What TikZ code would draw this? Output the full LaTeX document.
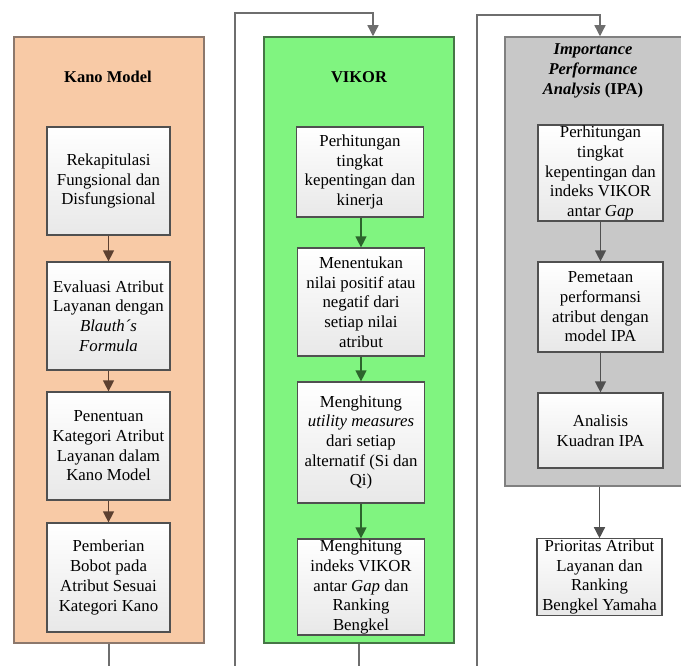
\documentclass[tikz,border=0pt]{standalone}
\usepackage{fontspec}
\setmainfont{Liberation Serif}
\usetikzlibrary{arrows.meta,positioning}

\definecolor{kanofill}{RGB}{248,202,166}
\definecolor{kanoline}{RGB}{140,120,108}
\definecolor{kanoarrow}{RGB}{92,64,48}
\definecolor{vikorfill}{RGB}{128,244,128}
\definecolor{vikorline}{RGB}{70,118,70}
\definecolor{vikorarrow}{RGB}{44,100,44}
\definecolor{ipafill}{RGB}{200,200,200}
\definecolor{ipaline}{RGB}{128,128,128}
\definecolor{linkgray}{RGB}{110,110,110}
\definecolor{boxline}{RGB}{80,80,80}

\begin{document}
\begin{tikzpicture}[x=1pt,y=-1pt]
\tikzset{
  container/.style={rectangle,line width=1.5pt,inner sep=0pt},
  stepbox/.style={rectangle,draw=boxline,line width=1.2pt,top color=white,bottom color=gray!18,
    align=center,inner sep=1pt,font=\fontsize{16.8}{19.7}\selectfont},
  titletext/.style={align=center,font=\fontsize{16.5}{19.7}\selectfont\bfseries},
  tip/.style={-{Triangle[length=11pt,width=11pt]}},
  kanoflow/.style={draw=kanoarrow,line width=1.3pt,tip},
  vikorflow/.style={draw=vikorarrow,line width=1.3pt,tip},
  ipaflow/.style={draw=boxline,line width=1.3pt,tip},
  link/.style={draw=linkgray,line width=1.3pt,line join=miter}
}
\clip (0,0) rectangle (681,666);
\fill[white] (0,0) rectangle (681,666);
% containers
\node[container,draw=kanoline,fill=kanofill,minimum width=190pt,minimum height=606pt] (n_kano) at (109,340) {};
\node[container,draw=vikorline,fill=vikorfill,minimum width=190pt,minimum height=606pt] (n_vikor) at (359,340) {};
\node[container,draw=ipaline,fill=ipafill,minimum width=190pt,minimum height=449pt] (n_ipa) at (600,261.5) {};
% titles
\node[titletext] (t_kano) at (108,77) {Kano Model};
\node[titletext] (t_vikor) at (359,77) {VIKOR};
\node[titletext] (t_ipa) at (593,71) {{\itshape Importance}\\{\itshape Performance}\\{\itshape Analysis} (IPA)};
% Kano steps
\node[stepbox,minimum width=123pt,minimum height=108pt] (n_k1) at (108.5,181) {Rekapitulasi\\Fungsional dan\\Disfungsional};
\node[stepbox,minimum width=123pt,minimum height=108pt] (n_k2) at (108.5,316) {Evaluasi Atribut\\Layanan dengan\\\textit{Blauth´s}\\\textit{Formula}};
\node[stepbox,minimum width=123pt,minimum height=108pt] (n_k3) at (108.5,446) {Penentuan\\Kategori Atribut\\Layanan dalam\\Kano Model};
\node[stepbox,minimum width=123pt,minimum height=109pt] (n_k4) at (108.5,577.5) {Pemberian\\Bobot pada\\Atribut Sesuai\\Kategori Kano};
% VIKOR steps
\node[stepbox,minimum width=127pt,minimum height=90pt] (n_v1) at (360,172) {Perhitungan\\tingkat\\kepentingan dan\\kinerja};
\node[stepbox,minimum width=127pt,minimum height=108pt] (n_v2) at (361,302) {Menentukan\\nilai positif atau\\negatif dari\\setiap nilai\\atribut};
\node[stepbox,minimum width=127pt,minimum height=121pt] (n_v3) at (361,442.5) {Menghitung\\\textit{utility measures}\\dari setiap\\alternatif (Si dan\\Qi)};
\node[stepbox,minimum width=127pt,minimum height=96pt] (n_v4) at (361,587) {Menghitung\\indeks VIKOR\\antar \textit{Gap} dan\\Ranking\\Bengkel};
% IPA steps
\node[stepbox,minimum width=125pt,minimum height=90pt] (n_i1) at (600.5,173) {Perhitungan\\tingkat\\kepentingan dan\\indeks VIKOR\\antar \textit{Gap}};
\node[stepbox,minimum width=125pt,minimum height=90pt] (n_i2) at (600.5,307) {Pemetaan\\performansi\\atribut dengan\\model IPA};
\node[stepbox,minimum width=125pt,minimum height=75pt] (n_i3) at (600.5,430.5) {Analisis\\Kuadran IPA};
\node[stepbox,minimum width=125pt,minimum height=76pt] (n_i4) at (599.5,577) {Prioritas Atribut\\Layanan dan\\Ranking\\Bengkel Yamaha};
% arrows inside
\draw[kanoflow] (n_k1) -- (n_k2);
\draw[kanoflow] (n_k2) -- (n_k3);
\draw[kanoflow] (n_k3) -- (n_k4);
\draw[vikorflow] (n_v1.south -| n_v2.north) -- (n_v2.north);
\draw[vikorflow] (n_v2) -- (n_v3);
\draw[vikorflow] (n_v3) -- (n_v4);
\draw[ipaflow] (n_i1) -- (n_i2);
\draw[ipaflow] (n_i2) -- (n_i3);
\draw[ipaflow] (n_ipa.south -| n_i4.north) -- (n_i4.north);
% links between stages
\coordinate (c_low1) at (235,700);
\coordinate (c_top1) at (235,13);
\coordinate (c_low2) at (477,700);
\coordinate (c_top2) at (477,15);
\draw[link,tip] (n_kano.south) |- (c_low1) -- (c_top1) -| ([xshift=14pt]n_vikor.north);
\draw[link,tip] (n_vikor.south) |- (c_low2) -- (c_top2) -| (n_ipa.north);
\end{tikzpicture}
\end{document}
